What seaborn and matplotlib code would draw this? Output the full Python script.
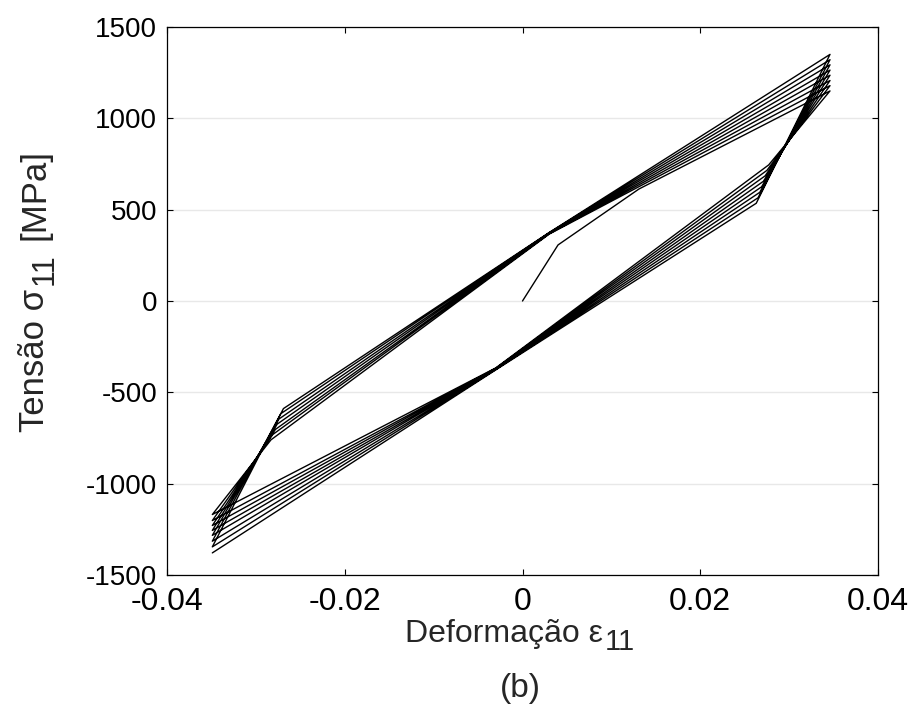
import numpy as np
import pandas as pd
import matplotlib
matplotlib.use("Agg")
import matplotlib.pyplot as plt
import seaborn as sns

# --- cyclic stress-strain data (strain [-], stress [MPa]) ---
# first loading from the origin up to the first peak
first_load_eps = [0.0, 0.0040, 0.0131]
first_load_sig = [0.0, 307.0, 613.0]

# strain amplitude reached at each reversal
eps_max = 0.0346
eps_min = -0.0349

# peak stresses of every cycle
top_peak = [1150, 1179, 1207, 1236, 1264, 1293, 1321, 1350]
bottom_peak = [-1169, -1202, -1229, -1256, -1283, -1315, -1346, -1379]

# end of elastic unloading after each tensile peak
right_kink_eps = [0.0277, 0.0275, 0.0273, 0.0271, 0.0269, 0.0267, 0.0265, 0.0263]
right_kink_sig = [745, 715, 685, 655, 625, 595, 565, 535]

# end of elastic reloading after each compressive peak
left_kink_eps = [-0.0283, -0.0281, -0.0278, -0.0276, -0.0274, -0.0272, -0.0269]
left_kink_sig = [-760, -731, -703, -674, -646, -617, -589]

# intermediate points of the plastic branches, near the centre
lower_mid_eps = -0.003
lower_mid_sig = [-366, -368, -369, -371, -372, -374, -375, -377]
upper_mid_eps = 0.003
upper_mid_sig = [366, 368, 369, 371, 372, 374, 375]

x_ticks = [-0.04, -0.02, 0, 0.02, 0.04]
x_tick_labels = ["-0.04", "-0.02", "0", "0.02", "0.04"]
y_ticks = [-1500, -1000, -500, 0, 500, 1000, 1500]
y_tick_labels = ["-1500", "-1000", "-500", "0", "500", "1000", "1500"]

# --- assemble the load path in order ---
eps_path = list(first_load_eps) + [eps_max]
sig_path = list(first_load_sig) + [top_peak[0]]
for n in range(len(top_peak)):
    eps_path += [right_kink_eps[n], lower_mid_eps, eps_min]
    sig_path += [right_kink_sig[n], lower_mid_sig[n], bottom_peak[n]]
    if n < len(left_kink_eps):
        eps_path += [left_kink_eps[n], upper_mid_eps, eps_max]
        sig_path += [left_kink_sig[n], upper_mid_sig[n], top_peak[n + 1]]

df = pd.DataFrame({"strain": eps_path, "stress": sig_path})

sns.set_theme(style="white")
plt.rcParams["font.family"] = ["Liberation Sans", "DejaVu Sans"]

W, H = 913, 708
fig = plt.figure(figsize=(W / 100, H / 100), dpi=100)
ax = fig.add_axes([167 / W, 1 - 575 / H, 711 / W, 548 / H])

sns.lineplot(data=df, x="strain", y="stress", sort=False, estimator=None,
             color="black", linewidth=1.0, ax=ax)

ax.set_xlim(-0.04, 0.04)
ax.set_ylim(-1500, 1500)
ax.set_xticks(x_ticks)
ax.set_xticklabels(x_tick_labels)
ax.set_yticks(y_ticks)
ax.set_yticklabels(y_tick_labels)

ax.yaxis.grid(True, color="#e8e8e8", linewidth=1.0)
ax.xaxis.grid(False)
ax.set_axisbelow(True)

for side in ["left", "right", "top", "bottom"]:
    ax.spines[side].set_visible(True)
    ax.spines[side].set_color("black")
    ax.spines[side].set_linewidth(0.9)

ax.tick_params(direction="in", top=True, right=True, bottom=True, left=True,
               length=4, width=0.8, colors="black")
ax.tick_params(axis="x", labelsize=23, pad=9)
ax.tick_params(axis="y", labelsize=20, pad=7)
ax.set_xlabel("")
ax.set_ylabel("")

renderer = fig.canvas.get_renderer()


def frac(x, y):
    """Pixel position (origin at the bottom-left) to figure fraction."""
    return x / W, y / H


# x-axis title with a full-size, lowered subscript
xt = fig.text(*frac(603, H - 634), "Deformação ε", fontsize=23,
              ha="right", va="center")
bb = xt.get_window_extent(renderer)
fig.text(*frac(bb.x1 + 2, bb.y0 - 7), "11", fontsize=21, ha="left", va="bottom")

# y-axis title, rotated, with the same subscript style
yt = fig.text(*frac(35, H - 432), "Tensão σ", fontsize=25, rotation=90,
              ha="center", va="bottom")
bb = yt.get_window_extent(renderer)
ys = fig.text(*frac(bb.x1 + 8, bb.y1 + 4), "11", fontsize=22, rotation=90,
              ha="right", va="bottom")
bb2 = ys.get_window_extent(renderer)
fig.text(*frac(35, bb2.y1 + 13), "[MPa]", fontsize=25, rotation=90,
         ha="center", va="bottom")

fig.text(*frac(520, H - 688), "(b)", fontsize=24, ha="center", va="center")

fig.savefig("out.png", dpi=100, facecolor="white")
